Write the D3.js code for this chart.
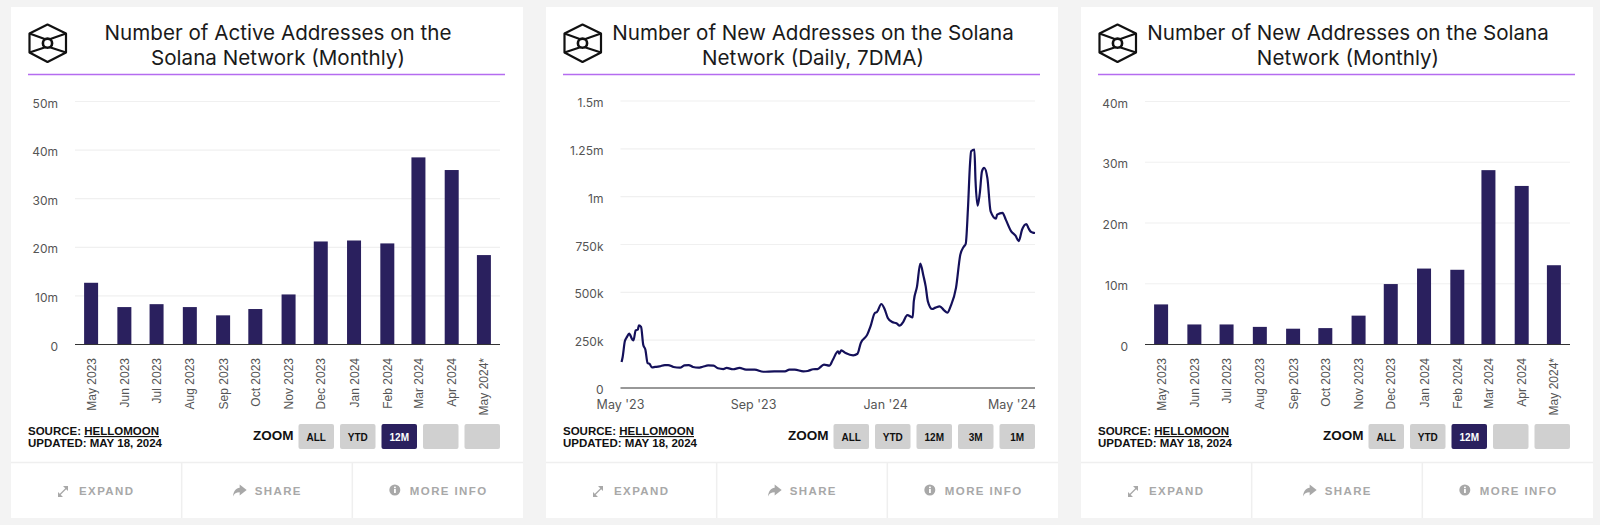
<!DOCTYPE html>
<html>
<head>
<meta charset="utf-8">
<script src="https://cdn.jsdelivr.net/npm/d3@7"></script>
<style>
  html, body { margin: 0; padding: 0; background: #f3f3f3; overflow: hidden; }
  text { font-family: Inter, sans-serif; }
  .helv { font-family: "Liberation Sans", sans-serif; }
</style>
</head>
<body>
<svg id="page" width="1600" height="525"></svg>
<script>
const months = ["May 2023", "Jun 2023", "Jul 2023", "Aug 2023", "Sep 2023", "Oct 2023", "Nov 2023",
  "Dec 2023", "Jan 2024", "Feb 2024", "Mar 2024", "Apr 2024", "May 2024*"];

// millions
const activeMonthly = [12.7, 7.7, 8.3, 7.7, 6.0, 7.3, 10.3, 21.2, 21.4, 20.8, 38.5, 35.9, 18.4];
const newMonthly = [6.6, 3.3, 3.3, 2.9, 2.6, 2.7, 4.75, 9.95, 12.5, 12.3, 28.7, 26.1, 13.05];

// days since May 1 2023 and the 7DMA value on that day
const dailyDays = [1, 2, 4, 6, 8, 11, 12, 14, 16, 17, 19, 21, 23, 25, 27, 29, 32, 36, 41, 44, 49, 55, 59, 63, 67, 72,
  76, 81, 86, 90, 95, 98, 104, 110, 116, 124, 132, 142, 152, 156, 161, 169, 173, 178, 182, 188, 193, 196, 201, 202,
  204, 208, 215, 219, 222, 228, 231, 235, 237, 241, 244, 247, 251, 255, 258, 261, 265, 270, 271, 274, 277, 280, 282,
  284, 288, 291, 295, 299, 302, 305, 310, 314, 317, 319, 321, 323, 324, 327, 328, 330, 332, 334, 336, 339, 342, 347,
  348, 353, 356, 361, 365, 368, 371, 375, 377, 379, 381, 383];
const dailyNew = [136, 162, 244, 267, 284, 253, 249, 301, 305, 327, 319, 226, 200, 131, 125, 108, 110, 113, 120, 120,
  110, 106, 118, 120, 110, 106, 111, 118, 117, 103, 99, 105, 98, 105, 96, 96, 85, 87, 87, 96, 96, 87, 89, 98, 99, 122,
  117, 145, 192, 179, 197, 183, 171, 179, 235, 279, 322, 392, 397, 439, 413, 366, 345, 338, 326, 343, 381, 369, 453,
  531, 650, 584, 531, 453, 413, 420, 427, 406, 394, 427, 523, 697, 737, 754, 932, 1176, 1237, 1246, 1089, 953, 1019,
  1132, 1150, 1097, 923, 885, 906, 915, 880, 819, 796, 768, 827, 857, 835, 817, 812, 810];

const activeTicks = [0, 10, 20, 30, 40, 50];
const activeTickLabels = ["0", "10m", "20m", "30m", "40m", "50m"];
const dailyTicks = [0, 250, 500, 750, 1000, 1250, 1500];
const dailyTickLabels = ["0", "250k", "500k", "750k", "1m", "1.25m", "1.5m"];
const newTicks = [0, 10, 20, 30, 40];
const newTickLabels = ["0", "10m", "20m", "30m", "40m"];
const dailyDateTicks = ["2023-05-01", "2023-09-01", "2024-01-01", "2024-05-01"];
const dailyDateLabels = ["May '23", "Sep '23", "Jan '24", "May '24"];

const titles = [
  ["Number of Active Addresses on the", "Solana Network (Monthly)"],
  ["Number of New Addresses on the Solana", "Network (Daily, 7DMA)"],
  ["Number of New Addresses on the Solana", "Network (Monthly)"]
];
const zoomButtons = [
  ["ALL", "YTD", "12M", "", ""],
  ["ALL", "YTD", "12M", "3M", "1M"],
  ["ALL", "YTD", "12M", "", ""]
];
const activeZoom = [2, -1, 2];
const footerLabels = ["EXPAND", "SHARE", "MORE INFO"];

const navy = "#2a205e";
const panelStep = 535, panelW = 512, panelH = 511, panelTop = 7;
const plotL = 64, plotR = 489, plotTop = 101.5, plotBottom = 344.5;

const svg = d3.select("#page");

function panel(i) {
  const g = svg.append("g").attr("transform", `translate(${11 + i * panelStep},${panelTop})`);
  g.append("rect").attr("width", panelW).attr("height", panelH).attr("fill", "#fff");

  // logo
  const logo = g.append("g").attr("transform", "translate(18,17)")
    .attr("fill", "none").attr("stroke", "#111").attr("stroke-width", 2.2).attr("stroke-linejoin", "round");
  logo.append("path").attr("d", "M18.5 0.5 L37 9.5 V28.5 L18.5 38 L0.5 28.5 V9.5 Z");
  logo.append("path").attr("d", "M0.5 9.5 L18.5 16 L37 9.5 M0.5 28.5 L18.5 22.5 L37 28.5");
  logo.append("circle").attr("cx", 18.5).attr("cy", 19.2).attr("r", 4.6).attr("fill", "#fff").attr("stroke-width", 2.6);

  const title = g.append("text").attr("text-anchor", "middle").attr("fill", "#1a1a1a")
    .attr("font-size", 20.6).attr("font-weight", 400);
  titles[i].forEach((line, k) => {
    title.append("tspan").attr("x", 267).attr("y", 33 + k * 25).text(line);
  });

  g.append("line").attr("x1", 17).attr("x2", 494).attr("y1", 67.5).attr("y2", 67.5)
    .attr("stroke", "#b56cf0").attr("stroke-width", 1.5);

  // source + zoom row
  const src = g.append("text").attr("class", "helv").attr("x", 17).attr("y", 428)
    .attr("font-size", 11.5).attr("font-weight", 700).attr("fill", "#111");
  src.append("tspan").text("SOURCE: ");
  src.append("tspan").attr("text-decoration", "underline").text("HELLOMOON");
  g.append("text").attr("class", "helv").attr("x", 17).attr("y", 440)
    .attr("font-size", 11.5).attr("font-weight", 700).attr("fill", "#111").text("UPDATED: MAY 18, 2024");
  g.append("text").attr("class", "helv").attr("x", 242).attr("y", 433)
    .attr("font-size", 13.5).attr("font-weight", 700).attr("fill", "#111").text("ZOOM");

  const btn = g.selectAll("g.btn").data(zoomButtons[i]).join("g").attr("class", "btn")
    .attr("transform", (d, k) => `translate(${287.5 + k * 41.5},417)`);
  btn.append("rect").attr("width", 35.5).attr("height", 25).attr("rx", 2)
    .attr("fill", (d, k) => k === activeZoom[i] ? navy : "#d0d0d0");
  btn.append("text").attr("class", "helv").attr("x", 17.75).attr("y", 17)
    .attr("text-anchor", "middle").attr("font-size", 10).attr("font-weight", 700)
    .attr("fill", (d, k) => k === activeZoom[i] ? "#fff" : "#111").text(d => d);

  // footer
  const colW = panelW / 3;
  g.append("line").attr("x1", 0).attr("x2", panelW).attr("y1", 455.5).attr("y2", 455.5).attr("stroke", "#efefef").attr("stroke-width", 1.5);
  [1, 2].forEach(k => g.append("line").attr("x1", k * colW).attr("x2", k * colW).attr("y1", 455).attr("y2", panelH)
    .attr("stroke", "#efefef").attr("stroke-width", 1.5));
  footerLabels.forEach((label, k) => {
    const f = g.append("g").attr("fill", "#a8a8a8").attr("transform", `translate(${k * colW},0)`);
    const textX = [68, 73, 57.5][k];
    f.append("text").attr("class", "helv").attr("x", textX).attr("y", 488).attr("font-size", 11.5)
      .attr("font-weight", 700).attr("letter-spacing", 1.4).text(label);
    if (k === 0) {
      f.append("path").attr("stroke", "#a8a8a8").attr("stroke-width", 1.2).attr("fill", "none").attr("d", "M47.5 489 L56.5 480");
      f.append("path").attr("d", "M47 485 V490 H52 Z M57 479 H52 L57 484 Z");
    } else if (k === 1) {
      f.append("path").attr("d", "M58 477.5 L65 483 L58 488.5 V485.3 C54.5 485.3 52.5 486.5 51.5 489.5 C51.5 484 54.5 481 58 480.7 Z");
    } else {
      f.append("circle").attr("cx", 42.5).attr("cy", 483).attr("r", 5.5);
      f.append("rect").attr("x", 41.7).attr("y", 482).attr("width", 1.8).attr("height", 4).attr("fill", "#fff");
      f.append("rect").attr("x", 41.7).attr("y", 479.6).attr("width", 1.8).attr("height", 1.6).attr("fill", "#fff");
    }
  });
  return g;
}

function yAxis(g, y, ticks, labels, x0, x1) {
  g.selectAll("line.grid").data(ticks.filter(t => t > 0)).join("line").attr("class", "grid")
    .attr("x1", x0).attr("x2", x1).attr("y1", d => y(d)).attr("y2", d => y(d))
    .attr("stroke", "#f0f0f0").attr("stroke-width", 1.2);
  g.selectAll("text.ylab").data(ticks).join("text").attr("class", "ylab")
    .attr("x", x0 - 17).attr("y", d => y(d) + 6).attr("text-anchor", "end")
    .attr("font-size", 12).attr("fill", "#555").text((d, k) => labels[k]);
}

function baseline(g, y, x0, x1) {
  g.append("line").attr("x1", x0).attr("x2", x1).attr("y1", y(0)).attr("y2", y(0))
    .attr("stroke", "#333").attr("stroke-width", 1.2);
}

const parseMonth = d3.timeParse("%b %Y");

function barChart(i, values, ticks, labels, max) {
  const g = panel(i);
  const x = d3.scaleTime().domain([new Date(2023, 3, 16), new Date(2024, 4, 16)]).range([plotL, plotR]);
  const y = d3.scaleLinear().domain([0, max]).range([plotBottom - panelTop, plotTop - panelTop]);
  yAxis(g, y, ticks, labels, plotL, plotR);
  const xm = m => x(parseMonth(m.replace("*", "")));
  g.selectAll("rect.bar").data(values).join("rect").attr("class", "bar")
    .attr("x", (d, k) => xm(months[k]) - 7).attr("width", 14)
    .attr("y", d => y(d)).attr("height", d => y(0) - y(d)).attr("fill", navy);
  baseline(g, y, plotL, plotR);
  g.selectAll("text.xlab").data(months).join("text").attr("class", "xlab helv")
    .attr("transform", d => `translate(${xm(d) + 4.5},351) rotate(-90)`)
    .attr("text-anchor", "end").attr("font-size", 12).attr("fill", "#555").text(d => d);
}

function lineChart(i) {
  const g = panel(i);
  const start = new Date(2023, 4, 1);
  const x = d3.scaleTime().domain([start, new Date(2024, 4, 18)]).range([74.5, 489]);
  const y = d3.scaleLinear().domain([0, 1500]).range([381, 94]);
  yAxis(g, y, dailyTicks, dailyTickLabels, 74.5, 489);
  const line = d3.line().x((d, k) => x(d3.timeDay.offset(start, dailyDays[k]))).y(d => y(d)).curve(d3.curveMonotoneX);
  g.append("path").attr("d", line(dailyNew)).attr("fill", "none").attr("stroke", "#14105a").attr("stroke-width", 2.2);
  baseline(g, y, 74.5, 489);
  g.selectAll("text.xlab").data(dailyDateTicks).join("text").attr("class", "xlab")
    .attr("x", d => Math.min(x(new Date(d + "T00:00")), 466)).attr("y", 402)
    .attr("text-anchor", "middle").attr("font-size", 12.5).attr("fill", "#555")
    .text((d, k) => dailyDateLabels[k]);
}

barChart(0, activeMonthly, activeTicks, activeTickLabels, 50);
lineChart(1);
barChart(2, newMonthly, newTicks, newTickLabels, 40);
</script>
</body>
</html>
